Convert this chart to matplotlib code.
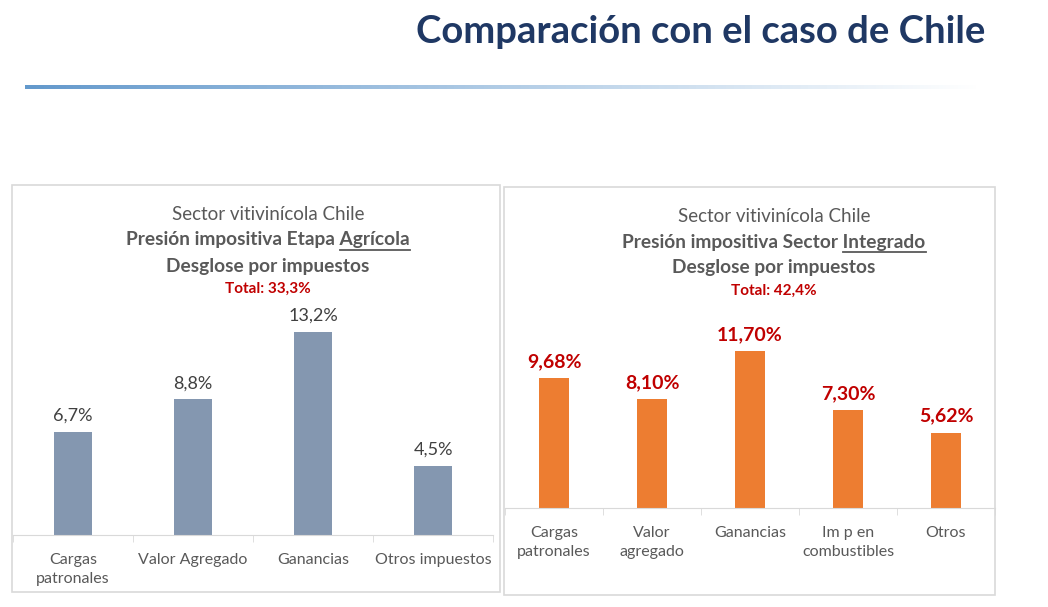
import numpy as np
import matplotlib
matplotlib.use("Agg")
import matplotlib.pyplot as plt
from matplotlib.patches import Rectangle
from matplotlib.lines import Line2D

plt.rcParams["font.family"] = ["Lato", "DejaVu Sans"]

# ── Data ──────────────────────────────────────────────────
agri_cats = ["Cargas\npatronales", "Valor Agregado", "Ganancias", "Otros impuestos"]
agri_vals = [6.7, 8.8, 13.2, 4.5]
agri_labels = ["6,7%", "8,8%", "13,2%", "4,5%"]

integ_cats = ["Cargas\npatronales", "Valor\nagregado", "Ganancias",
              "Im p en\ncombustibles", "Otros"]
integ_vals = [9.68, 8.10, 11.70, 7.30, 5.62]
integ_labels = ["9,68%", "8,10%", "11,70%", "7,30%", "5,62%"]

W, H = 1048, 607
fig = plt.figure(figsize=(W / 100, H / 100), dpi=100)
fig.patch.set_facecolor("white")

def fx(x):
    return x / W

def fy(y):
    return 1 - y / H

# ── Header ────────────────────────────────────────────────
fig.text(fx(985), fy(32), "Comparación con el caso de Chile", ha="right", va="center",
         fontsize=27.5, fontweight="bold", color="#1F3864")

grad_ax = fig.add_axes([fx(25), fy(89), fx(955), 4 / H])
grad = np.linspace(0, 1, 256)[None, :]
c0 = np.array([0.39, 0.60, 0.80])
cols = c0[None, None, :] * (1 - grad[..., None]) + np.ones(3)[None, None, :] * grad[..., None]
grad_ax.imshow(cols, aspect="auto", extent=[0, 1, 0, 1])
grad_ax.axis("off")

# ── Panel frames ──────────────────────────────────────────
for x0, y0, x1, y1 in [(12, 185, 500, 592), (504, 187, 995, 595)]:
    fig.patches.append(Rectangle((fx(x0), fy(y1)), fx(x1 - x0), (y1 - y0) / H,
                                 transform=fig.transFigure, fill=False,
                                 edgecolor="#D9D9D9", linewidth=1.2))

def panel_title(cx, y_top, bold_prefix, bold_word, total):
    fig.text(fx(cx), fy(y_top), "Sector vitivinícola Chile", ha="center", va="center",
             fontsize=13.5, color="#595959")
    t = fig.text(fx(cx), fy(y_top + 26), bold_prefix + bold_word, ha="center", va="center",
                 fontsize=13.8, fontweight="bold", color="#595959")
    fig.text(fx(cx), fy(y_top + 52), "Desglose por impuestos", ha="center", va="center",
             fontsize=13.8, fontweight="bold", color="#595959")
    fig.text(fx(cx), fy(y_top + 75), total, ha="center", va="center",
             fontsize=11, fontweight="bold", color="#C00000")
    # underline last word
    r = fig.canvas.get_renderer()
    bb = t.get_window_extent(r)
    tmp = fig.text(0, 0, bold_word, fontsize=13.8, fontweight="bold")
    ww = tmp.get_window_extent(r).width
    tmp.remove()
    yline = bb.y0 - 1
    fig.add_artist(Line2D([(bb.x1 - ww) / W, bb.x1 / W], [yline / H, yline / H],
                          transform=fig.transFigure, color="#595959", linewidth=1.3))

panel_title(268, 214, "Presión impositiva Etapa ", "Agrícola", "Total: 33,3%")
panel_title(774, 216, "Presión impositiva Sector ", "Integrado", "Total: 42,4%")

def bar_panel(rect, cats, vals, labels, color, ymax, width, lab_color, lab_weight, lab_size):
    ax = fig.add_axes(rect)
    x = np.arange(len(cats))
    bars = ax.bar(x, vals, width=width, color=color)
    ax.set_xlim(-0.5, len(cats) - 0.5)
    ax.set_ylim(0, ymax)
    ax.set_xticks(x)
    ax.set_xticklabels(cats, fontsize=11.5, color="#595959", linespacing=1.45)
    ax.set_xticks(np.arange(len(cats) + 1) - 0.5, minor=True)
    ax.tick_params(axis="x", which="major", length=0, pad=13)
    ax.tick_params(axis="x", which="minor", length=5, color="#D9D9D9")
    ax.set_yticks([])
    for s in ["top", "left", "right"]:
        ax.spines[s].set_visible(False)
    ax.spines["bottom"].set_color("#D9D9D9")
    ax.patch.set_alpha(0)
    for b, lab in zip(bars, labels):
        ax.annotate(lab, (b.get_x() + b.get_width() / 2, b.get_height()),
                    xytext=(0, 6), textcoords="offset points", ha="center", va="bottom",
                    fontsize=lab_size, color=lab_color, fontweight=lab_weight)
    return ax

bar_panel([fx(13), fy(535), fx(480), 14 * 15.4 / H], agri_cats, agri_vals, agri_labels,
          "#8497B0", 14, 0.32, "#404040", "normal", 13)
bar_panel([fx(505), fy(508), fx(490), 12.5 * 13.4 / H], integ_cats, integ_vals, integ_labels,
          "#ED7D31", 12.5, 0.31, "#C00000", "bold", 14)

plt.savefig("out.png", dpi=100)
